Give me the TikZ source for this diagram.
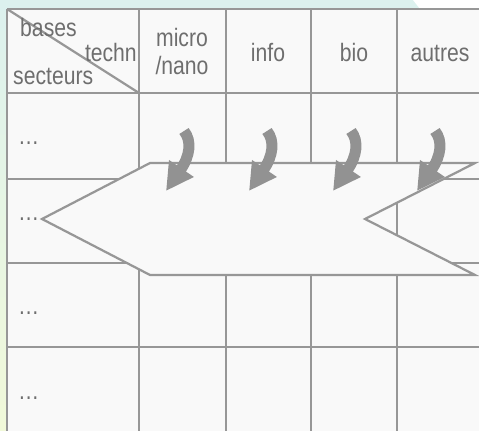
\documentclass[tikz,border=0pt]{standalone}
\usepackage{fontspec}
\setmainfont{Liberation Sans}[FakeStretch=0.84]
\usetikzlibrary{arrows.meta,calc}

\definecolor{bgteal}{HTML}{DCF1EE}
\definecolor{bggreen}{HTML}{F1F9D9}
\definecolor{cellwhite}{HTML}{F9F9F9}
\definecolor{gridgray}{HTML}{979797}
\definecolor{textgray}{HTML}{6E6E6E}
\definecolor{arrowgray}{HTML}{929292}

\tikzset{
	grid/.style={gridgray,line width=1.9pt},
	fleche/.style={arrowgray,line width=0.33cm,-{Triangle[width=0.84cm,length=0.82cm]}},
	lbl/.style={text=textgray,font=\fontsize{21.5}{25}\selectfont,inner sep=0pt},
}

\begin{document}
\begin{tikzpicture}[x=0.03cm,y=-0.03cm]
	\useasboundingbox (0,0) rectangle (479,431);
%	background and cells
	\fill[top color=bgteal,bottom color=bggreen] (0,0) rectangle (479,431);
	\fill[white] (413,0) -- (479,0) -- (479,9) -- (420,9) -- cycle;
	\fill[cellwhite] (7,9) rectangle (479,431);

%	grid lines
	\draw[grid] (7,9) -- (479,9);
	\draw[grid] (7,93) -- (479,93);
	\draw[grid] (7,179) -- (479,179);
	\draw[grid] (7,263) -- (479,263);
	\draw[grid] (7,347) -- (479,347);
	\draw[grid] (7,9) -- (7,431);
	\draw[grid] (139,9) -- (139,431);
	\draw[grid] (226,9) -- (226,431);
	\draw[grid] (311,9) -- (311,431);
	\draw[grid] (397,9) -- (397,431);
	\draw[grid] (7,9) -- (139,93);

%	header
	\node[lbl,anchor=base west] (bases) at (20,37) {bases};
	\node[lbl,anchor=base east] (techn) at (137,62) {techn};
	\node[lbl,anchor=base west] (secteurs) at (13,85) {secteurs};
	\node[lbl,anchor=base] (micro) at (182,47) {micro};
	\node[lbl,anchor=base] (nano) at (182,75) {/nano};
	\node[lbl,anchor=base] (info) at (268,62) {info};
	\node[lbl,anchor=base] (bio) at (354,62) {bio};
	\node[lbl,anchor=base] (autres) at (440,62) {autres};

%	sectors
	\node[lbl,anchor=base west] (s1) at (18,145) {…};
	\node[lbl,anchor=base west] (s2) at (18,221) {…};
	\node[lbl,anchor=base west] (s3) at (18,314) {…};
	\node[lbl,anchor=base west] (s4) at (18,399) {…};

%	banner over the second row
	\coordinate (pl) at (42,219);
	\coordinate (ph) at (150,163);
	\coordinate (pb) at (150,275);
	\coordinate (qh) at (475,163);
	\coordinate (qm) at (365,219);
	\coordinate (qb) at (475,275);
	\filldraw[grid,fill=cellwhite,line join=miter] (pl) -- (ph) -- (qh) -- (qm) -- (qb) -- (pb) -- cycle;

%	curved arrows, tail (fN) and tip (fNb)
	\coordinate (f1)  at (184,131);
	\coordinate (f1b) at (166,191);
	\coordinate (f2)  at (267,131);
	\coordinate (f2b) at (249,191);
	\coordinate (f3)  at (351,131);
	\coordinate (f3b) at (333,191);
	\coordinate (f4)  at (435,131);
	\coordinate (f4b) at (417,191);
	\draw[fleche] (f1) .. controls ($(f1)+(8,10)$) and ($(f1b)+(24,-35)$) .. (f1b);
	\draw[fleche] (f2) .. controls ($(f2)+(8,10)$) and ($(f2b)+(24,-35)$) .. (f2b);
	\draw[fleche] (f3) .. controls ($(f3)+(8,10)$) and ($(f3b)+(24,-35)$) .. (f3b);
	\draw[fleche] (f4) .. controls ($(f4)+(8,10)$) and ($(f4b)+(24,-35)$) .. (f4b);
\end{tikzpicture}
\end{document}
